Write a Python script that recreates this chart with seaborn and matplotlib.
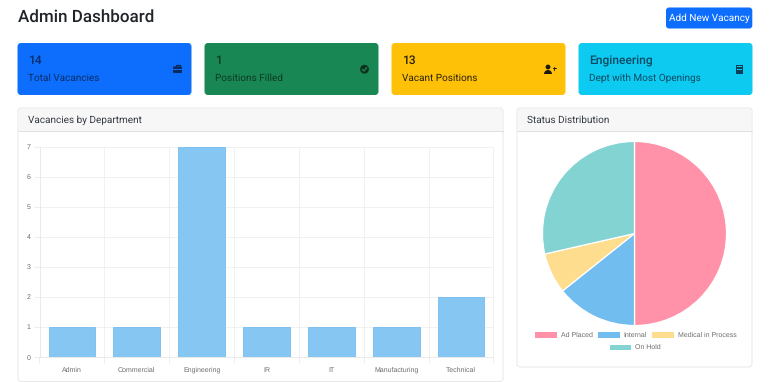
#!/usr/bin/env python
# Admin dashboard: stat cards, vacancies bar chart and status pie
import pandas as pd
import seaborn as sns
from matplotlib import pyplot as plt
from matplotlib.patches import FancyBboxPatch, Rectangle, Circle, Wedge

departments = ["Admin", "Commercial", "Engineering", "IR", "IT", "Manufacturing", "Technical"]
vacancies = [1, 1, 7, 1, 1, 1, 2]

statuses = ["Ad Placed", "Internal", "Medical in Process", "On Hold"]
status_counts = [7, 2, 1, 4]
status_colors = ["#FF92A9", "#72BDF0", "#FFDD8E", "#82D3D2"]

card_values = ["14", "1", "13", "Engineering"]
card_labels = ["Total Vacancies", "Positions Filled", "Vacant Positions", "Dept with Most Openings"]
card_colors = ["#0D6EFD", "#198754", "#FFC107", "#0DCAF0"]
card_text = ["#0A2E66", "#0E3A26", "#2A2208", "#0B4A63"]
card_left = [18, 205, 392, 579]

W, H = 770, 382

sns.set_theme(style="white")
plt.rcParams["font.family"] = ["Roboto", "DejaVu Sans"]
plt.rcParams["text.hinting"] = "no_hinting"
plt.rcParams["text.hinting_factor"] = 1

fig = plt.figure(figsize=(W / 100, H / 100), dpi=100, facecolor="white")

# whole figure in pixel coordinates, for the page furniture
bg = fig.add_axes([0, 0, 1, 1], zorder=0)
bg.set_xlim(0, W)
bg.set_ylim(H, 0)
bg.axis("off")


def round_box(x, y, w, h, face, edge="none", r=3, lw=0.7):
    box = FancyBboxPatch((x + r, y + r), w - 2 * r, h - 2 * r,
                         boxstyle="round,pad={},rounding_size={}".format(r, r),
                         fc=face, ec=edge, lw=lw)
    bg.add_patch(box)


def axes_at(x0, y0, x1, y1):
    return fig.add_axes([x0 / W, 1 - y1 / H, (x1 - x0) / W, (y1 - y0) / H], zorder=2)


bg.text(18, 17.3, "Admin Dashboard", fontsize=12.3, fontweight="medium", color="#212529",
        va="center", ha="left")

round_box(666, 7.5, 86.3, 21, "#0D6EFD", r=3)
bg.text(709, 18.4, "Add New Vacancy", fontsize=7.0, color="white", va="center", ha="center")

# stat cards
for left, val, lab, col, txt in zip(card_left, card_values, card_labels, card_colors, card_text):
    round_box(left, 43.5, 173, 51, col, edge=col, r=3)
    bg.text(left + 10, 61, val, fontsize=8.6, color=txt, va="center", ha="left",
            fontweight="medium")
    bg.text(left + 10, 78.6, lab, fontsize=6.9, color=txt, va="center", ha="left")

# briefcase
bg.add_patch(FancyBboxPatch((173.5, 67), 8, 5.5, boxstyle="round,pad=0.5,rounding_size=1", fc="#0A2A5E", ec="none"))
bg.add_patch(Rectangle((175.5, 65.3), 4, 1.8, fc="none", ec="#0A2A5E", lw=0.9))
bg.add_patch(Rectangle((173, 69.3), 9, 0.6, fc="#0D6EFD", ec="none"))
# check circle
bg.add_patch(Circle((364.5, 69.2), 4.4, fc="#10301F", ec="none"))
bg.plot([362.4, 364, 366.7], [69.3, 71, 67.6], color="#198754", lw=1.0)
# user plus
bg.add_patch(Circle((548, 67), 2.4, fc="#1C1A10", ec="none"))
bg.add_patch(Wedge((548, 74), 4.0, 180, 360, fc="#1C1A10", ec="none"))
bg.plot([553, 555.8], [68.3, 68.3], color="#1C1A10", lw=0.7)
bg.plot([554.4, 554.4], [66.9, 69.7], color="#1C1A10", lw=0.7)
# building
bg.add_patch(Rectangle((736, 64.5), 7, 9.5, fc="#0B3F55", ec="none"))
for wy in [66.2, 68.8]:
    bg.add_patch(Rectangle((737.4, wy), 4.2, 1.1, fc="#0DCAF0", ec="none"))

# chart panels
for x, y, w, h, title in [(18, 108, 485, 273.5, "Vacancies by Department"),
                          (517, 108, 235, 259, "Status Distribution")]:
    round_box(x, y, w, h, "white", edge="#E2E3E5", r=3, lw=0.6)
    bg.add_patch(Rectangle((x + 0.6, y + 0.6), w - 1.2, 22.4, fc="#F7F7F7", ec="none"))
    bg.plot([x, x + w], [y + 23, y + 23], color="#E0E1E2", lw=0.7)
    bg.text(x + 10, y + 12.3, title, fontsize=6.9, color="#343A40", va="center", ha="left")

# bar chart
bar_df = pd.DataFrame({"department": departments, "vacancies": vacancies})
ax = axes_at(39.5, 146.5, 493.5, 357)
ax.patch.set_alpha(0)
sns.barplot(data=bar_df, x="department", y="vacancies", color="#86C6F3", saturation=1,
            width=0.72, edgecolor="#74BDF0", linewidth=0.6, zorder=3, ax=ax)
ax.set_xlim(-0.5, 6.5)
ax.set_ylim(0, 7)
ax.set_xlabel("")
ax.set_ylabel("")
ax.set_yticks(range(8))
ax.set_xticks(range(len(departments)))
ax.set_xticks([i - 0.5 for i in range(len(departments) + 1)], minor=True)
ax.tick_params(axis="x", which="major", length=0, pad=7, labelsize=5.4, labelcolor="#6E6E6E")
ax.tick_params(axis="x", which="minor", length=4, width=0.6, color="#EBEBEB", bottom=True)
ax.tick_params(axis="y", which="major", length=4, width=0.6, color="#EBEBEB", pad=2.5,
               labelsize=5.4, labelcolor="#6E6E6E", left=True)
for lab in ax.get_xticklabels() + ax.get_yticklabels():
    lab.set_family(["Liberation Sans", "DejaVu Sans"])
ax.grid(True, axis="y", which="major", color="#EFEFEF", lw=0.6, zorder=0)
ax.grid(True, axis="x", which="minor", color="#EFEFEF", lw=0.6, zorder=0)
ax.grid(False, axis="x", which="major")
ax.set_axisbelow(True)
for name, spine in ax.spines.items():
    spine.set_visible(name in ("left", "bottom"))
    spine.set_color("#E6E6E6")
    spine.set_linewidth(0.6)

# pie chart
pie_ax = axes_at(542, 141, 727, 326)
pie_ax.pie(status_counts, colors=status_colors, startangle=90, counterclock=False, radius=1,
           wedgeprops={"edgecolor": "white", "linewidth": 0.9})
pie_ax.set_xlim(-1.005, 1.005)
pie_ax.set_ylim(-1.005, 1.005)

# legend, two centred rows like the web chart
legend_x = [535, 598, 652, 609.5]
legend_y = [335, 335, 335, 347.5]
for sx, sy, name, col in zip(legend_x, legend_y, statuses, status_colors):
    bg.add_patch(Rectangle((sx, sy - 2.8), 21.5, 5.6, fc=col, ec="none"))
    bg.text(sx + 25.8, sy - 0.2, name, fontsize=5.4, color="#6E6E6E", va="center", ha="left",
            family=["Liberation Sans", "DejaVu Sans"])

fig.savefig("out.png", dpi=100)
